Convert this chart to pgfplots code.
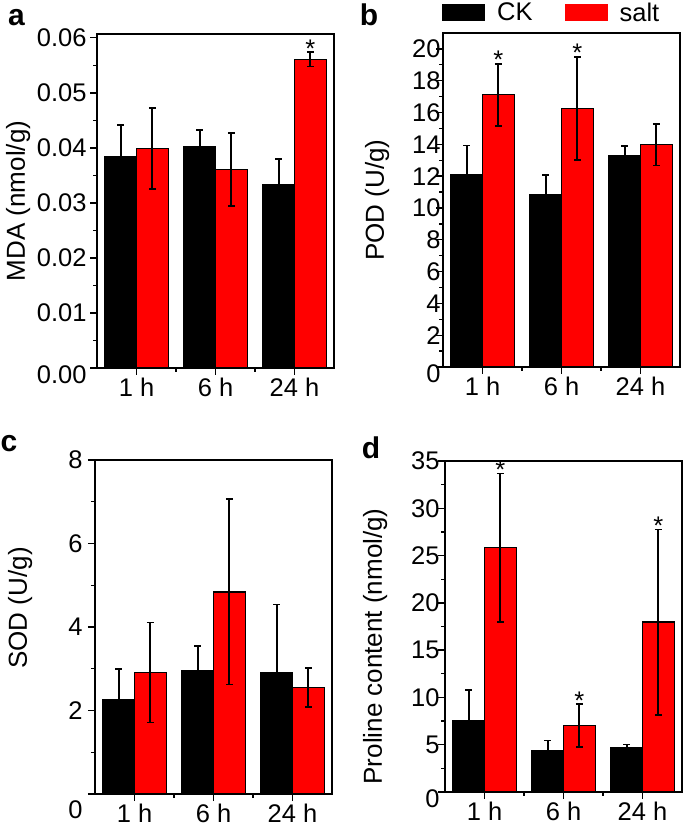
\documentclass[border=0pt]{standalone}
\usepackage{pgfplots}
\pgfplotsset{compat=1.18}
\usepackage{pgfplotstable}
\usepackage{fontspec}
\setmainfont{Liberation Sans}

% columns: time, CK mean, CK sd, salt mean, salt sd
\pgfplotstableread{
x ck ckerr salt salterr
1 0.0384 0.0058 0.0399 0.0074
2 0.0403 0.0030 0.0361 0.0066
3 0.0333 0.0047 0.0561 0.0013
}\mda
\pgfplotstableread{
x ck ckerr salt salterr
1 12.12 1.80 17.12 1.95
2 10.82 1.26 16.26 3.25
3 13.28 0.60 13.97 1.30
}\pod
\pgfplotstableread{
x ck ckerr salt salterr
1 2.25 0.74 2.91 1.20
2 2.95 0.59 4.84 2.22
3 2.91 1.63 2.55 0.46
}\sod
\pgfplotstableread{
x ck ckerr salt salterr
1 7.53 3.27 25.82 7.85
2 4.40 1.05 7.03 2.25
3 4.71 0.30 17.97 9.80
}\pro

\newcommand{\tickfont}{\fontsize{25.5bp}{30bp}\selectfont}
\newcommand{\labfont}{\fontsize{26bp}{30bp}\selectfont}

\pgfplotsset{
  every error bar/.style={line width=1.7bp, black},
  panel/.style={
    anchor=south west, scale only axis,
    width=237bp, height=334bp,
    xmin=0.5, xmax=3.5,
    xtick={1,2,3}, xticklabels={1 h,6 h,24 h},
    minor xtick={1.5,2.5},
    ymin=0, scaled y ticks=false,
    tick align=outside, tick pos=left,
    major tick length=7bp, minor tick length=4bp,
    axis line style={line width=1.3bp},
    every tick/.style={black, line width=1.3bp},
    tick label style={font=\tickfont},
    label style={font=\labfont},
    /pgf/number format/assume math mode=true,
    clip=false,
  },
  bars/.style={ybar, bar width=0.4, bar shift=0, draw=black, line width=1.2bp,
    /pgfplots/error bars/y dir=both, /pgfplots/error bars/y explicit,
    /pgfplots/error bars/error bar style={line width=1.7bp, black},
    /pgfplots/error bars/error mark options={rotate=90, mark size=3.5bp, line width=1.7bp, black}},
  ckbar/.style={bars, fill=black},
  saltbar/.style={bars, fill=red},
  star/.style={draw=none, mark=none, forget plot,
    nodes near coords={*},
    every node near coord/.style={anchor=base, yshift=-5bp, font=\tickfont, black}},
}

\begin{document}
\begin{tikzpicture}
\path[use as bounding box] (0,0) rectangle (685bp,831bp);

% panel letters
\node[font=\fontsize{30bp}{34bp}\selectfont\bfseries] at (16.5bp,813.5bp) {a};
\node[font=\fontsize{30bp}{34bp}\selectfont\bfseries] at (369bp,816bp) {b};
\node[font=\fontsize{30bp}{34bp}\selectfont\bfseries] at (9bp,387bp) {c};
\node[font=\fontsize{30bp}{34bp}\selectfont\bfseries] at (371bp,383bp) {d};

% a: MDA
\begin{axis}[panel, at={(97bp,463bp)},
  ymax=0.0607,
  ytick={0.01,0.02,0.03,0.04,0.05,0.06},
  minor ytick={0.005,0.015,0.025,0.035,0.045,0.055},
  extra y ticks={0}, extra y tick labels={0.00},
  extra y tick style={yticklabel style={yshift=-7bp}},
  y tick label style={/pgf/number format/fixed, /pgf/number format/fixed zerofill, /pgf/number format/precision=2},
  ylabel={MDA (nmol/g)},
  ylabel style={at={(axis description cs:-0.333,0.5)}, anchor=center},
]
\addplot[ckbar] table[x expr=\thisrow{x}-0.2, y=ck, y error=ckerr] {\mda};
\addplot[saltbar] table[x expr=\thisrow{x}+0.2, y=salt, y error=salterr] {\mda};
\addplot[star] coordinates {(3.2,0.0574)};
\end{axis}

% b: POD
\begin{axis}[panel, at={(443bp,464bp)},
  ymax=21,
  ytick={2,4,...,20},
  minor ytick={1,3,...,19},
  extra y ticks={0}, extra y tick labels={0},
  extra y tick style={yticklabel style={yshift=-7bp}},
  yticklabel style={xshift=8bp},
  ylabel={POD (U/g)},
  ylabel style={at={(axis description cs:-0.278,0.5)}, anchor=center},
  legend style={at={(rel axis cs:0,1)}, anchor=south west, xshift=-4bp, yshift=6bp,
    draw=none, fill=none, font=\tickfont, legend columns=-1,
    /tikz/every odd column/.append style={column sep=10bp},
    /tikz/every even column/.append style={column sep=30bp}},
  legend image code/.code={\fill[#1, draw=none] (0bp,-8.5bp) rectangle (43bp,8.5bp);},
]
\addplot[ckbar] table[x expr=\thisrow{x}-0.2, y=ck, y error=ckerr] {\pod};
\addplot[saltbar] table[x expr=\thisrow{x}+0.2, y=salt, y error=salterr] {\pod};
\addplot[star] coordinates {(1.2,19.07) (2.2,19.51)};
\legend{CK, salt}
\end{axis}

% c: SOD
\begin{axis}[panel, at={(95bp,37bp)},
  ymax=8,
  ytick={2,4,6,8},
  minor ytick={1,3,5,7},
  extra y ticks={0}, extra y tick labels={0},
  extra y tick style={yticklabel style={yshift=-16bp}},
  yticklabel style={xshift=-2bp},
  ylabel={SOD (U/g)},
  ylabel style={at={(axis description cs:-0.316,0.557)}, anchor=center},
]
\addplot[ckbar] table[x expr=\thisrow{x}-0.2, y=ck, y error=ckerr] {\sod};
\addplot[saltbar] table[x expr=\thisrow{x}+0.2, y=salt, y error=salterr] {\sod};
\end{axis}

% d: proline
\begin{axis}[panel, at={(445bp,39bp)}, height=331bp,
  ymax=35,
  ytick={5,10,...,35},
  minor ytick={2.5,7.5,...,32.5},
  extra y ticks={0}, extra y tick labels={0},
  extra y tick style={yticklabel style={yshift=-7bp}},
  yticklabel style={xshift=5bp},
  ylabel={Proline content (nmol/g)},
  ylabel style={at={(axis description cs:-0.295,0.44)}, anchor=center},
]
\addplot[ckbar] table[x expr=\thisrow{x}-0.2, y=ck, y error=ckerr] {\pro};
\addplot[saltbar] table[x expr=\thisrow{x}+0.2, y=salt, y error=salterr] {\pro};
\addplot[star] coordinates {(1.2,33.72) (2.2,9.28) (3.2,27.77)};
\end{axis}
\end{tikzpicture}
\end{document}
